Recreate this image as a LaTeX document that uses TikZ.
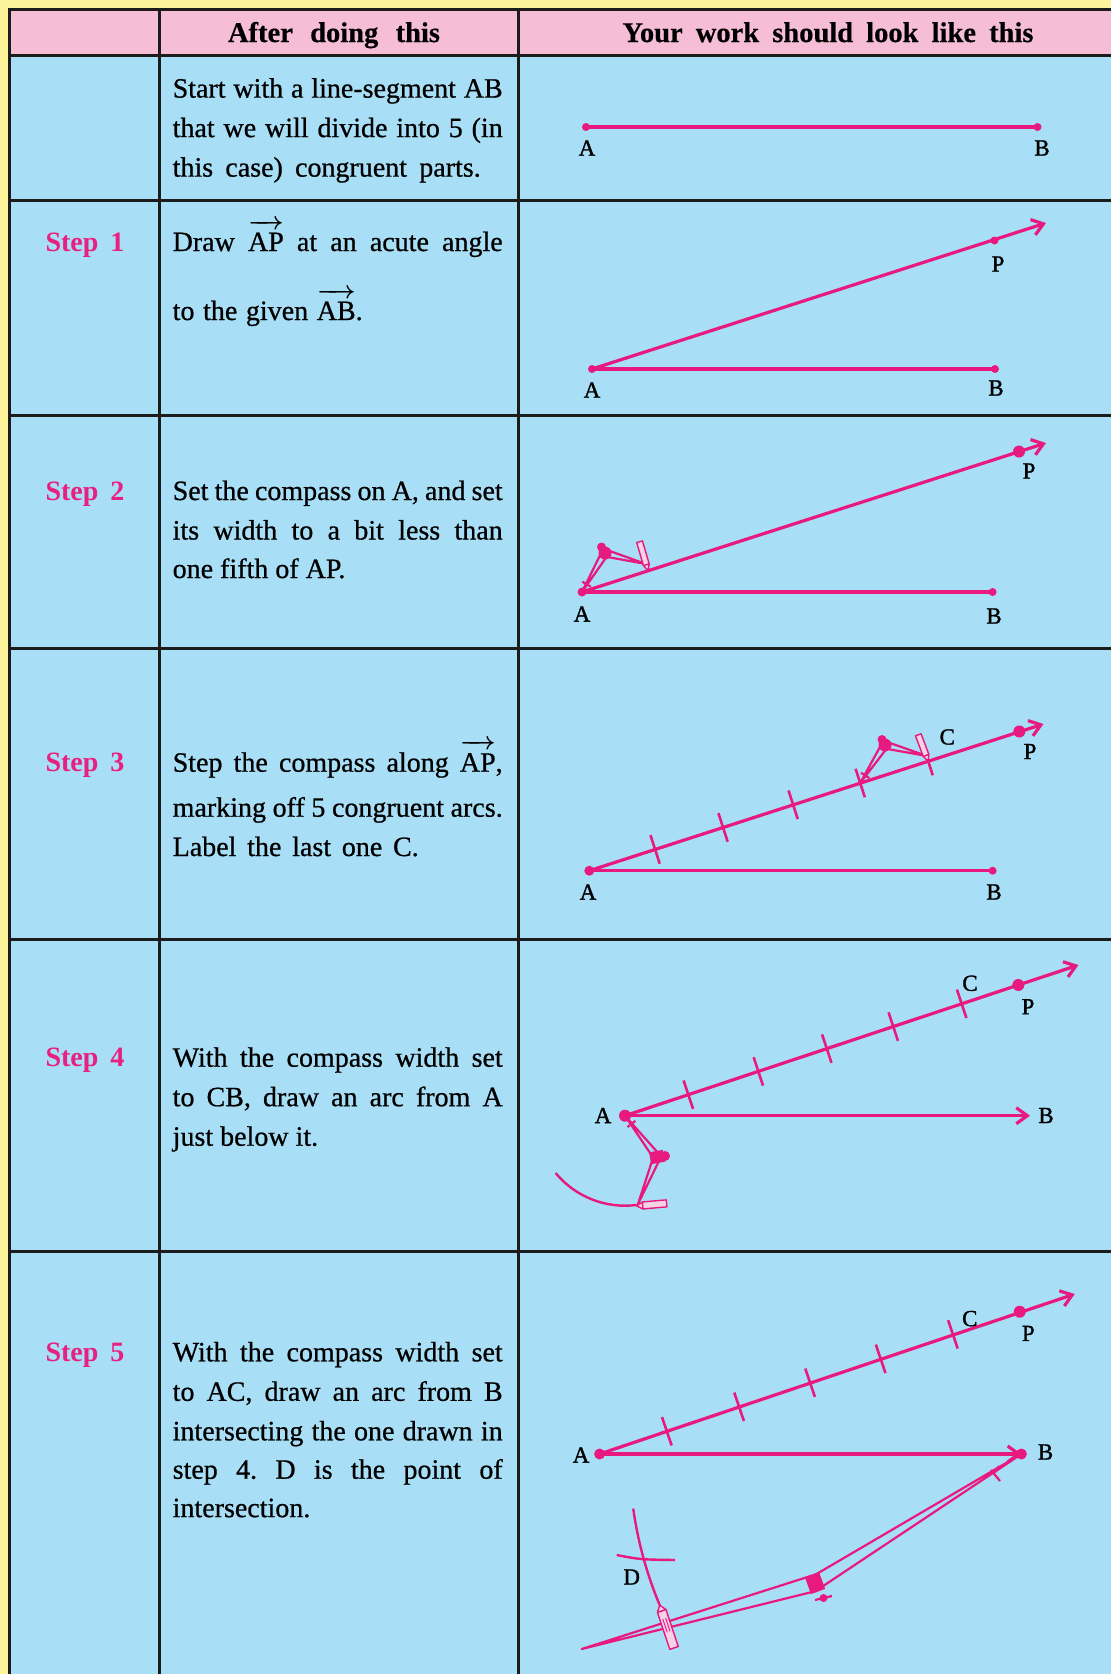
\documentclass[tikz,border=0pt]{standalone}
\usepackage{fontspec}
\setmainfont{Liberation Serif}
\newfontfamily\bodyserif{Liberation Serif}[FakeBold=0.7]
\newfontfamily\labelserif{Liberation Serif}[FakeBold=1.3]
\newfontfamily\headserif{Liberation Serif}[FakeBold=0.4]
\usetikzlibrary{calc,arrows.meta}

\definecolor{magline}{HTML}{E8197F}
\definecolor{steppink}{HTML}{E8207F}
\definecolor{cellblue}{HTML}{A9DFF6}
\definecolor{headpink}{HTML}{F5BDD6}
\definecolor{pageyellow}{HTML}{FDF39B}
\definecolor{gridblack}{HTML}{1C1C1C}
\definecolor{pencilfill}{HTML}{F7D3E6}

% ray name with an arrow over it
\newcommand\rayover[1]{{\mathversion{bold}$\overrightarrow{\rule{0pt}{23pt}\mbox{#1}}$}}
% a fully justified line of the instruction column
\newcommand\jline[1]{\makebox[330pt][s]{#1}}
% the two strokes of a compass leg, from the hinge #1 to the point #2
\newcommand\compassleg[3]{\draw[legline] ($(#1)!#3!90:(#2)$) -- (#2) -- ($(#1)!#3!-90:(#2)$);}
% a pencil: tip at #1, pointing back along angle #2, length #3, half width #4
\newcommand\pencilat[4]{%
  \begin{scope}[shift={(#1)}, rotate=#2]
    \filldraw[pencilline] (0,0) -- (6,#4) -- (#3,#4) -- (#3,-#4) -- (6,-#4) -- cycle;
    \draw[pencilline] (6,#4) -- (6,-#4);
  \end{scope}}
% short arcs stepped along a ray, named #4<i>
\newcommand\ticksalong[4]{%
  \foreach \f [count=\i] in {#3} {
    \coordinate (#4\i) at ($(#1)!\f!(#2)$);
    \draw[tickline] ($(#4\i)!15pt!90:(#2)$) -- ($(#4\i)!15pt!-90:(#2)$);
  }}
% small cross-piece on a needle leg: leg from #1 (needle) to #2 (hinge)
\newcommand\needlemark[2]{%
  \coordinate (nm) at ($(#1)!0.2!(#2)$);
  \draw[legline] ($(nm)!5pt!90:(#2)$) -- ($(nm)!5pt!-90:(#2)$);}

\begin{document}
\frenchspacing
\begin{tikzpicture}[x=1pt,y=-1pt,
  grid/.style={line width=3pt, draw=gridblack},
  mag/.style={draw=magline, line width=3.2pt},
  ray/.style={mag, -{Straight Barb[length=11pt,width=16pt]}},
  tickline/.style={draw=magline, line width=2.6pt},
  legline/.style={draw=magline, line width=2.2pt, line join=round},
  pencilline/.style={draw=magline, line width=1.4pt, fill=pencilfill, line join=round},
  arcline/.style={draw=magline, line width=2.4pt},
  lbl/.style={inner sep=0pt, text=black, font=\labelserif\fontsize{23}{23}\selectfont},
  txt/.style={anchor=base west, inner sep=0pt, text=black, font=\bodyserif\fontsize{28}{30}\selectfont},
  steplbl/.style={anchor=base, inner sep=0pt, text=steppink, font=\fontsize{28}{30}\selectfont\bfseries},
  hdr/.style={anchor=base, inner sep=0pt, text=black, font=\headserif\fontsize{28.5}{30}\selectfont\bfseries},
]
\useasboundingbox (0,0) rectangle (1111,1674);
\clip (0,0) rectangle (1111,1674);

% ---------- page and table ----------
\fill[pageyellow] (0,0) rectangle (1111,1674);
\fill[headpink] (9,9.5) rectangle (1140,55);
\fill[cellblue] (9,55) rectangle (1140,1700);
\draw[grid] (9,1700) -- (9,9.5) -- (1140,9.5);
\foreach \y in {55,200,415,648,939,1251} \draw[grid] (9,\y) -- (1140,\y);
\draw[grid] (159,9.5) -- (159,1700);
\draw[grid] (518,9.5) -- (518,1700);

% ---------- header ----------
\node[hdr] (hd2) at (334,42) {\makebox[212pt][s]{After doing this}};
\node[hdr] (hd3) at (828,42) {\makebox[411pt][s]{Your work should look like this}};

% ---------- step names ----------
\node[steplbl] (s1) at (85,251) {\makebox[79pt][s]{Step 1}};
\node[steplbl] (s2) at (85,500) {\makebox[79pt][s]{Step 2}};
\node[steplbl] (s3) at (85,771.7) {\makebox[79pt][s]{Step 3}};
\node[steplbl] (s4) at (85,1066.7) {\makebox[79pt][s]{Step 4}};
\node[steplbl] (s5) at (85,1361.3) {\makebox[79pt][s]{Step 5}};

% ---------- instructions ----------
\node[txt] (r0a) at (172.5,97.6) {\jline{Start with a line-segment AB}};
\node[txt] (r0b) at (172.5,137.1) {\jline{that we will divide into 5 (in}};
\node[txt] (r0c) at (172.5,176.6) {\makebox[308pt][s]{this case) congruent parts.}};

\node[txt] (r1a) at (172.5,251) {\jline{Draw \rayover{AP} at an acute angle}};
\node[txt] (r1b) at (172.5,320) {\makebox[190pt][s]{to the given \rayover{AB}.}};

\node[txt] (r2a) at (172.5,500) {\jline{Set the compass on A, and set}};
\node[txt] (r2b) at (172.5,539.5) {\jline{its width to a bit less than}};
\node[txt] (r2c) at (172.5,578) {one fifth of AP.};

\node[txt] (r3a) at (172.5,771.7) {\jline{Step the compass along \rayover{AP},}};
\node[txt] (r3b) at (172.5,816.7) {\jline{marking off 5 congruent arcs.}};
\node[txt] (r3c) at (172.5,856) {\makebox[246pt][s]{Label the last one C.}};

\node[txt] (r4a) at (172.5,1066.7) {\jline{With the compass width set}};
\node[txt] (r4b) at (172.5,1106.2) {\jline{to CB, draw an arc from A}};
\node[txt] (r4c) at (172.5,1145.7) {just below it.};

\node[txt] (r5a) at (172.5,1361.3) {\jline{With the compass width set}};
\node[txt] (r5b) at (172.5,1400.8) {\jline{to AC, draw an arc from B}};
\node[txt] (r5c) at (172.5,1440.3) {\jline{intersecting the one drawn in}};
\node[txt] (r5d) at (172.5,1478.7) {\jline{step 4. D is the point of}};
\node[txt] (r5e) at (172.5,1517.1) {intersection.};

% ---------- row 0: the segment ----------
\coordinate (a0) at (586,127);
\coordinate (b0) at (1037.5,127);
\draw[mag] (a0) -- (b0);
\fill[magline] (a0) circle (4pt) (b0) circle (4pt);
\node[lbl] (la0) at (587,148) {A};
\node[lbl] (lb0) at (1042,148) {B};

% ---------- step 1 ----------
\coordinate (a1) at (592,369);
\coordinate (b1) at (995,369);
\coordinate (p1) at (994.5,240.5);
\coordinate (e1) at (1046,223);
\draw[mag] (a1) -- (b1);
\draw[ray] (a1) -- (e1);
\fill[magline] (a1) circle (4pt) (b1) circle (4pt) (p1) circle (4pt);
\node[lbl] (la1) at (592,390) {A};
\node[lbl] (lb1) at (996,388) {B};
\node[lbl] (lp1) at (998,264) {P};

% ---------- step 2 ----------
\coordinate (a2) at (582,592);
\coordinate (b2) at (992.6,592);
\coordinate (p2) at (1019,451.5);
\coordinate (e2) at (1046,443);
\draw[mag] (a2) -- (b2);
\draw[ray] (a2) -- (e2);
\fill[magline] (a2) circle (4.5pt) (b2) circle (4pt) (p2) circle (6pt);
\node[lbl] (la2) at (582,614) {A};
\node[lbl] (lb2) at (994,616) {B};
\node[lbl] (lp2) at (1029,471) {P};
% compass opened on A
\coordinate (h2) at (605,553);
\coordinate (k2) at (601.5,547);
\coordinate (q2) at (646,564);
\coordinate (t2) at (648,570.5);
\compassleg{h2}{a2}{3.5pt}
\compassleg{h2}{q2}{3.5pt}
\fill[magline] (h2) circle (6.5pt) (k2) circle (4.5pt);
\needlemark{a2}{h2}
\pencilat{t2}{106.3}{30}{3}

% ---------- step 3 ----------
\coordinate (a3) at (589.3,870.7);
\coordinate (b3) at (992.6,870.7);
\coordinate (p3) at (1019.3,731.5);
\coordinate (e3) at (1043.5,724);
\draw[mag] (a3) -- (b3);
\draw[ray] (a3) -- (e3);
\ticksalong{a3}{p3}{0.153,0.311,0.474,0.630,0.788}{tk3}
\fill[magline] (a3) circle (5pt) (b3) circle (4pt) (p3) circle (6pt);
\node[lbl] (la3) at (588,892) {A};
\node[lbl] (lb3) at (994,892) {B};
\node[lbl] (lp3) at (1030,751.5) {P};
\node[lbl] (lc3) at (947.3,737) {C};
% compass stepping from the fourth mark to the fifth
\coordinate (h3) at (885,745);
\coordinate (k3) at (882,739.5);
\coordinate (q3) at ($(tk35)+(-1,-5)$);
\compassleg{h3}{tk34}{3.5pt}
\compassleg{h3}{q3}{3.5pt}
\fill[magline] (h3) circle (6.5pt) (k3) circle (4.5pt);
\needlemark{tk34}{h3}
\pencilat{tk35}{110.6}{28}{3}

% ---------- step 4 ----------
\coordinate (a4) at (625,1115.7);
\coordinate (b4) at (1030,1115.7);
\coordinate (p4) at (1018.3,985);
\coordinate (e4) at ($(a4)!1.153!(p4)$);
\draw[mag, -{Straight Barb[length=11pt,width=16pt]}] (a4) -- (b4);
\draw[ray] (a4) -- (e4);
\ticksalong{a4}{p4}{0.161,0.339,0.513,0.682,0.856}{tk4}
\fill[magline] (a4) circle (6pt) (p4) circle (6pt);
\node[lbl] (la4) at (603,1115.5) {A};
\node[lbl] (lb4) at (1046,1115.5) {B};
\node[lbl] (lp4) at (1028,1006.7) {P};
\node[lbl] (lc4) at (970,983.3) {C};
% arc from A with radius CB
\draw[arcline] (a4) ++(140.4:90) coordinate (arc4s) arc[start angle=140.4, end angle=82.5, radius=90] coordinate (arc4e);
\coordinate (h4) at (657,1157);
\coordinate (k4) at (665,1156);
\coordinate (q4) at (638,1204);
\coordinate (t4) at (636.7,1206);
\compassleg{h4}{a4}{3.5pt}
\compassleg{h4}{q4}{3.5pt}
\fill[magline, shift={(h4)}, rotate=10] (-7,-6) rectangle (7,6);
\fill[magline] (k4) circle (5pt);
\needlemark{a4}{h4}
\pencilat{t4}{5.1}{30}{3.5}

% ---------- step 5 ----------
\coordinate (a5) at (599.6,1454);
\coordinate (b5) at (1021.4,1454);
\coordinate (p5) at (1019.7,1311.7);
\coordinate (e5) at (1074.8,1294);
\draw[mag, -{Straight Barb[length=11pt,width=16pt]}] (a5) -- (b5);
\draw[ray] (a5) -- (e5);
\ticksalong{a5}{p5}{0.160,0.332,0.501,0.669,0.841}{tk5}
\fill[magline] (a5) circle (5.5pt) (b5) circle (5.5pt) (p5) circle (6pt);
\node[lbl] (la5) at (581,1455) {A};
\node[lbl] (lb5) at (1045.5,1452) {B};
\node[lbl] (lp5) at (1028.3,1333.4) {P};
\node[lbl] (lc5) at (969.8,1318.6) {C};
% arc from B with radius AC, and the arc of step 4 crossing it at D
\draw[arcline] (b5) ++(172:392) coordinate (arc5s) arc[start angle=172, end angle=157.3, radius=392] coordinate (arc5e);
\coordinate (x5s) at (616.7,1555);
\coordinate (x5e) at (675,1560);
\draw[arcline] (x5s) .. controls (640,1559.5) .. (x5e);
\node[lbl] (ld5) at (631.7,1577) {D};
% compass opened from B
\coordinate (h5) at (815,1583);
\coordinate (k5) at (823.5,1598);
\coordinate (f5) at (581.7,1649);
\compassleg{h5}{b5}{7pt}
\compassleg{h5}{f5}{8pt}
\fill[magline, shift={(h5)}, rotate=20] (-7.5,-9) rectangle (7.5,9);
\fill[magline] (k5) circle (4pt);
\draw[legline] (815,1600) -- (832,1596);
\draw[legline] (991,1470) -- (1000,1481);
\draw[legline] (995,1472) -- (999,1466);
\pencilat{arc5e}{-71.5}{45}{4.5}
\begin{scope}[shift={(arc5e)}, rotate=-71.5]
  \draw[magline, line width=0.9pt] (14,-1.5) -- (28,-1.5) (14,1.5) -- (28,1.5);
\end{scope}
\end{tikzpicture}
\end{document}
